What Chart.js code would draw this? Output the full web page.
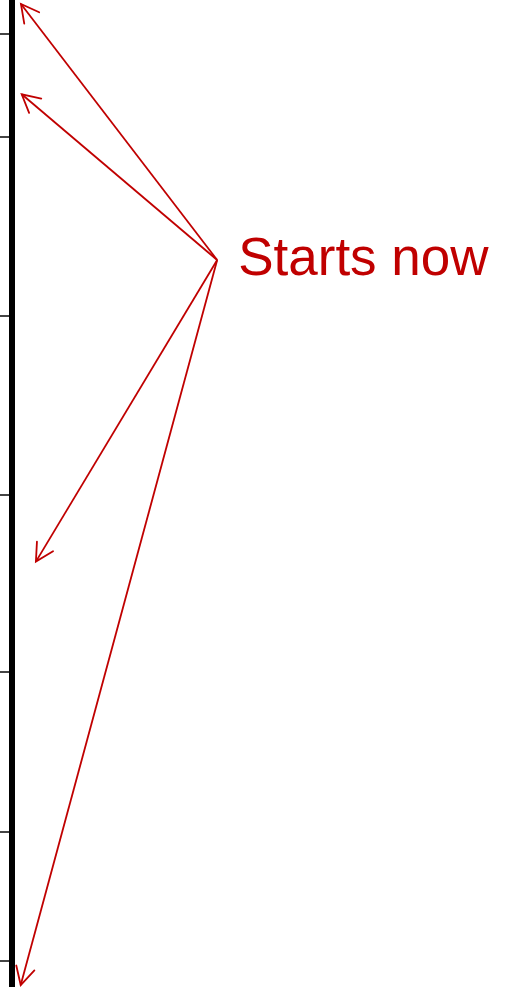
<!DOCTYPE html>
<html>
<head>
<meta charset="utf-8">
<title>Starts now</title>
<script src="https://cdn.jsdelivr.net/npm/chart.js@4"></script>
<style>
  html, body { margin: 0; padding: 0; background: #fff; }
  #wrap { width: 510px; height: 987px; position: relative; }
</style>
</head>
<body>
<div id="wrap"><canvas id="chart"></canvas></div>
<script>
// axis tick positions (value units, 0 = bottom, 100 = top)
const yTicks = [96.6, 86.1, 68.0, 49.85, 31.9, 15.7, 2.6];

// where all the arrows start, and where each one points
const startPoint = { x: 41.2, y: 73.66 };
const arrowTipsX = [1.8, 1.95, 4.8, 1.75];
const arrowTipsY = [99.6, 90.45, 43.1, 0.2];

const label = "Starts now";
const red = "#c00000";

const datasets = arrowTipsX.map((x, i) => ({
  data: [startPoint, { x: x, y: arrowTipsY[i] }],
  borderColor: red,
  borderWidth: 1.8,
  pointRadius: 0,
  showLine: true,
  clip: false
}));

// open arrow heads at the last point of each line, plus the label
const arrowPlugin = {
  id: "arrows",
  afterDatasetsDraw(chart) {
    const ctx = chart.ctx;
    ctx.save();
    ctx.strokeStyle = red;
    ctx.lineWidth = 1.8;
    ctx.lineCap = "round";
    chart.data.datasets.forEach((ds, i) => {
      const pts = chart.getDatasetMeta(i).data;
      const a = pts[0], b = pts[pts.length - 1];
      const ang = Math.atan2(a.y - b.y, a.x - b.x);
      const len = 20, spread = 28 * Math.PI / 180;
      ctx.beginPath();
      ctx.moveTo(b.x + len * Math.cos(ang - spread), b.y + len * Math.sin(ang - spread));
      ctx.lineTo(b.x, b.y);
      ctx.lineTo(b.x + len * Math.cos(ang + spread), b.y + len * Math.sin(ang + spread));
      ctx.stroke();
    });
    const o = chart.getDatasetMeta(0).data[0];
    ctx.fillStyle = red;
    ctx.font = "53px 'Liberation Sans', Arial, sans-serif";
    ctx.textBaseline = "alphabetic";
    ctx.textAlign = "left";
    ctx.fillText(label, o.x + 21, o.y + 15);
    ctx.restore();
  }
};

new Chart(document.getElementById("chart"), {
  type: "scatter",
  data: { datasets },
  options: {
    responsive: true,
    maintainAspectRatio: false,
    animation: false,
    layout: { padding: 0 },
    plugins: { legend: { display: false }, tooltip: { enabled: false } },
    scales: {
      x: { type: "linear", min: 0, max: 100, display: false },
      y: {
        type: "linear",
        min: 0,
        max: 100,
        afterBuildTicks: s => { s.ticks = yTicks.map(v => ({ value: v })); },
        ticks: { display: false },
        grid: { drawOnChartArea: false, drawTicks: true, tickLength: 12, color: "#444", lineWidth: 2 },
        border: { display: true, color: "#000", width: 6 }
      }
    }
  },
  plugins: [arrowPlugin]
});
</script>
</body>
</html>
